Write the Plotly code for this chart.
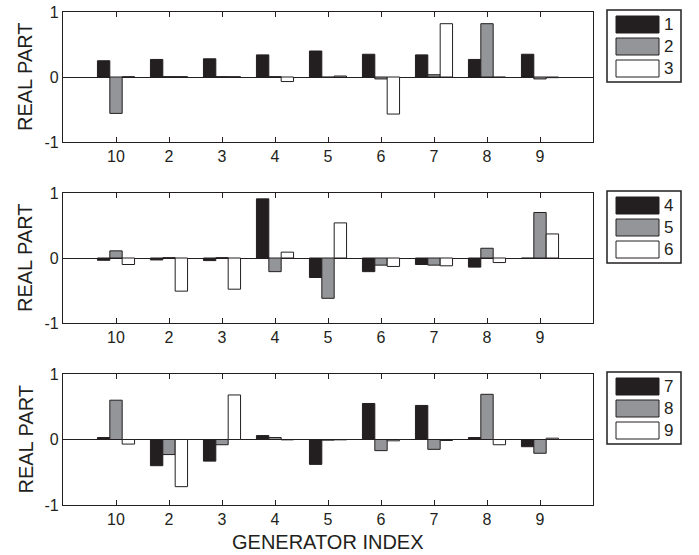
import plotly.graph_objects as go

W, H = 699, 555

categories = ["10", "2", "3", "4", "5", "6", "7", "8", "9"]
positions = [1, 2, 3, 4, 5, 6, 7, 8, 9]

# panel 1: modes 1,2,3
p1_s1 = [0.25, 0.27, 0.28, 0.34, 0.40, 0.35, 0.34, 0.27, 0.35]
p1_s2 = [-0.56, 0.005, 0.005, 0.005, -0.005, -0.03, 0.035, 0.82, -0.03]
p1_s3 = [0.004, 0.005, 0.004, -0.07, 0.015, -0.57, 0.82, -0.005, -0.01]
# panel 2: modes 4,5,6
p2_s1 = [-0.035, -0.03, -0.04, 0.91, -0.30, -0.21, -0.10, -0.14, -0.005]
p2_s2 = [0.11, 0.005, 0.005, -0.21, -0.62, -0.11, -0.11, 0.15, 0.70]
p2_s3 = [-0.10, -0.51, -0.48, 0.09, 0.54, -0.13, -0.12, -0.07, 0.37]
# panel 3: modes 7,8,9
p3_s1 = [0.03, -0.40, -0.33, 0.06, -0.38, 0.55, 0.52, 0.03, -0.11]
p3_s2 = [0.60, -0.23, -0.08, 0.03, -0.01, -0.17, -0.15, 0.69, -0.21]
p3_s3 = [-0.07, -0.72, 0.68, -0.005, -0.005, -0.02, -0.015, -0.08, 0.02]

legend_labels = [["1", "2", "3"], ["4", "5", "6"], ["7", "8", "9"]]
panels = [[p1_s1, p1_s2, p1_s3], [p2_s1, p2_s2, p2_s3], [p3_s1, p3_s2, p3_s3]]

colors = ["#231f20", "#939598", "#ffffff"]
edge = "#231f20"
font_family = "Liberation Sans, Arial, sans-serif"

# panel pixel boxes (top, bottom)
panel_px = [(12, 142), (193, 323), (374, 505)]
x_left, x_right = 63, 593

fig = go.Figure()
layout = dict(
    width=W, height=H, margin=dict(l=0, r=0, t=0, b=0),
    paper_bgcolor="white", plot_bgcolor="white",
    showlegend=False, barmode="group", bargap=0.3, bargroupgap=0,
    font=dict(family=font_family, color="#231f20"),
)
shapes = []
annotations = []

for i, (series, (top, bot)) in enumerate(zip(panels, panel_px)):
    xa = "x" if i == 0 else f"x{i+1}"
    ya = "y" if i == 0 else f"y{i+1}"
    for s, vals in enumerate(series):
        fig.add_trace(go.Bar(
            x=positions, y=vals, xaxis=xa, yaxis=ya,
            marker=dict(color=colors[s], line=dict(color=edge, width=1)),
            name=legend_labels[i][s], offsetgroup=str(s),
        ))
    xkey = "xaxis" if i == 0 else f"xaxis{i+1}"
    ykey = "yaxis" if i == 0 else f"yaxis{i+1}"
    layout[xkey] = dict(
        domain=[x_left / W, x_right / W], anchor=ya, range=[0, 10],
        tickvals=positions, ticktext=categories, ticks="inside", ticklen=5,
        tickcolor="#231f20", showline=True, linecolor="#231f20", linewidth=1.3,
        mirror="ticks", showgrid=False, zeroline=False, automargin=False,
        tickfont=dict(size=16, family=font_family, color="#231f20"),
    )
    layout[ykey] = dict(
        domain=[1 - bot / H, 1 - top / H], anchor=xa, range=[-1, 1],
        tickvals=[-1, 0, 1], ticktext=["-1", "0", "1"], ticks="inside", ticklen=5,
        tickcolor="#231f20", showline=True, linecolor="#231f20", linewidth=1.3,
        mirror="ticks", showgrid=False, zeroline=True, zerolinecolor="#231f20",
        zerolinewidth=1, automargin=False,
        tickfont=dict(size=16, family=font_family, color="#231f20"),
    )
    annotations.append(dict(xref="paper", yref="paper", x=25 / W, y=1 - (top + bot) / 2 / H,
                            text="REAL PART", showarrow=False, textangle=-90,
                            xanchor="center", yanchor="middle",
                            font=dict(size=20, family=font_family, color="#231f20")))
    # custom legend box
    bt = top - 2
    shapes.append(dict(type="rect", xref="paper", yref="paper",
                       x0=607 / W, x1=681 / W, y0=1 - (bt + 72) / H, y1=1 - bt / H,
                       line=dict(color="#231f20", width=1.5), fillcolor="white"))
    for s in range(3):
        y0 = bt + 6 + 22 * s
        shapes.append(dict(type="rect", xref="paper", yref="paper",
                           x0=616 / W, x1=659 / W, y0=1 - (y0 + 17) / H, y1=1 - y0 / H,
                           line=dict(color=edge, width=1), fillcolor=colors[s]))
        annotations.append(dict(xref="paper", yref="paper", x=662 / W, y=1 - (y0 + 8.5) / H,
                                text=legend_labels[i][s], showarrow=False, xanchor="left",
                                yanchor="middle", font=dict(size=17, family=font_family, color="#231f20")))

annotations.append(dict(xref="paper", yref="paper", x=(x_left + x_right) / 2 / W, y=1 - 542 / H,
                        text="GENERATOR INDEX", showarrow=False, xanchor="center", yanchor="middle",
                        font=dict(size=20, family=font_family, color="#231f20")))
layout["shapes"] = shapes
layout["annotations"] = annotations
fig.update_layout(**layout)
fig.write_html("out.html")
